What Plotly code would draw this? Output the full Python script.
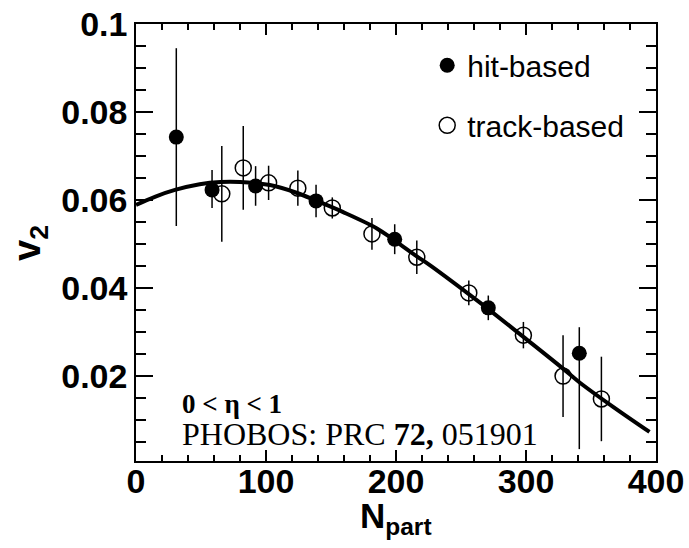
import plotly.graph_objects as go

# ---- data ----
hit_x = [31, 58.5, 92, 138.5, 199, 271, 341]
hit_y = [0.0743, 0.0623, 0.0632, 0.0598, 0.0511, 0.0355, 0.0252]
hit_err_plus = [0.0202, 0.0045, 0.0045, 0.0037, 0.0034, 0.0028, 0.0059]
hit_err_minus = [0.0202, 0.0041, 0.0045, 0.0037, 0.0034, 0.0028, 0.0218]

track_x = [66, 82.5, 102, 124.5, 151, 181.5, 216, 256, 298, 328.5, 358]
track_y = [0.0614, 0.0673, 0.0639, 0.0627, 0.0582, 0.0523, 0.0470, 0.0389, 0.0293, 0.0200, 0.0148]
track_err = [0.0109, 0.0095, 0.0039, 0.0040, 0.0024, 0.0036, 0.0038, 0.0028, 0.0030, 0.0093, 0.0096]

fit_x = [0, 15, 30, 49, 65, 80, 103, 124, 139, 159, 185, 199, 216, 226, 257, 272, 298, 328, 341, 367, 395]
fit_y = [0.0589, 0.0608, 0.0623, 0.0636, 0.0641, 0.0641, 0.0634, 0.0616, 0.0598, 0.0573, 0.0536,
         0.0508, 0.0472, 0.0452, 0.0384, 0.0350, 0.0289, 0.0218, 0.0186, 0.0130, 0.0073]

y_tickvals = [0.02, 0.04, 0.06, 0.08, 0.1]
y_ticktext = ["0.02", "0.04", "0.06", "0.08", "0.1"]
x_tickvals = [0, 100, 200, 300, 400]
x_ticktext = ["0", "100", "200", "300", "400"]

X_RANGE = [0, 400]
Y_RANGE = [0.0007, 0.1]

SANS = "Liberation Sans, Arial, Helvetica, sans-serif"
SERIF = "Liberation Serif, Times New Roman, serif"

fig = go.Figure()

fig.add_trace(go.Scatter(
    x=fit_x, y=fit_y, mode="lines", line=dict(color="black", width=4, shape="spline"),
    showlegend=False, hoverinfo="skip"))

fig.add_trace(go.Scatter(
    x=hit_x, y=hit_y, mode="markers", name="hit-based", legendgroup="a",
    marker=dict(symbol="circle", size=15, color="black"),
    error_y=dict(type="data", array=hit_err_plus, arrayminus=hit_err_minus,
                 symmetric=False, color="black", thickness=1.5, width=0)))

fig.add_trace(go.Scatter(
    x=track_x, y=track_y, mode="markers", name="track-based", legendgroup="b",
    marker=dict(symbol="circle-open", size=16, color="black", line=dict(width=1.5, color="black")),
    error_y=dict(type="data", array=track_err, color="black", thickness=1.5, width=0)))

# invisible trace registering the mirrored (top/right) axes
fig.add_trace(go.Scatter(
    x=fit_x, y=fit_y, mode="lines", line=dict(width=0, color="rgba(0,0,0,0)"),
    xaxis="x2", yaxis="y2", showlegend=False, hoverinfo="skip"))

axis_common = dict(showgrid=False, zeroline=False, showline=True, linecolor="black", linewidth=1.5,
                   ticks="inside", tickcolor="black", tickwidth=1.5)

x_minor = dict(dtick=20, ticklen=6, ticks="inside", tickcolor="black", tickwidth=1.5)
y_minor = dict(dtick=0.005, ticklen=10, ticks="inside", tickcolor="black", tickwidth=1.5)

fig.update_layout(
    xaxis=dict(range=X_RANGE, tickvals=x_tickvals, ticktext=x_ticktext, ticklen=11,
               tickfont=dict(family=SANS, size=34, color="black", weight="bold"),
               ticklabelstandoff=-11, minor=x_minor, **axis_common),
    yaxis=dict(range=Y_RANGE, tickvals=y_tickvals, ticktext=y_ticktext, ticklen=17,
               tickfont=dict(family=SANS, size=34, color="black", weight="bold"),
               minor=y_minor, **axis_common),
    xaxis2=dict(range=X_RANGE, overlaying="x", side="top", anchor="y2", tickvals=x_tickvals,
                showticklabels=False, ticklen=11, minor=x_minor, **axis_common),
    yaxis2=dict(range=Y_RANGE, overlaying="y", side="right", anchor="x2", tickvals=y_tickvals,
                showticklabels=False, ticklen=17, minor=y_minor, **axis_common),
)

fig.update_layout(
    width=689, height=548,
    margin=dict(l=136, r=33, t=24, b=87, autoexpand=False),
    paper_bgcolor="white", plot_bgcolor="white",
    legend=dict(x=0.56, y=0.965, xanchor="left", yanchor="top", bgcolor="rgba(0,0,0,0)",
                font=dict(family=SANS, size=30, color="black"), tracegroupgap=18,
                itemsizing="trace"),
    annotations=[
        dict(text="N<sub>part</sub>", xref="paper", yref="paper", x=0.5, y=-0.13,
             xanchor="center", yanchor="middle", showarrow=False,
             font=dict(family=SANS, size=35, color="black", weight="bold")),
        dict(text="v<sub>2</sub>", xref="paper", yref="paper", x=-0.205, y=0.5,
             xanchor="center", yanchor="middle", showarrow=False, textangle=-90,
             font=dict(family=SANS, size=38, color="black", weight="bold")),
        dict(text="<b>0 &lt; η &lt; 1</b>", xref="paper", yref="paper", x=0.085, y=0.130,
             xanchor="left", yanchor="middle", showarrow=False,
             font=dict(family=SERIF, size=27, color="black")),
        dict(text="PHOBOS: PRC <b>72,</b> 051901", xref="paper", yref="paper", x=0.085, y=0.062,
             xanchor="left", yanchor="middle", showarrow=False,
             font=dict(family=SERIF, size=32, color="black")),
    ],
)

fig.write_html("out.html")
